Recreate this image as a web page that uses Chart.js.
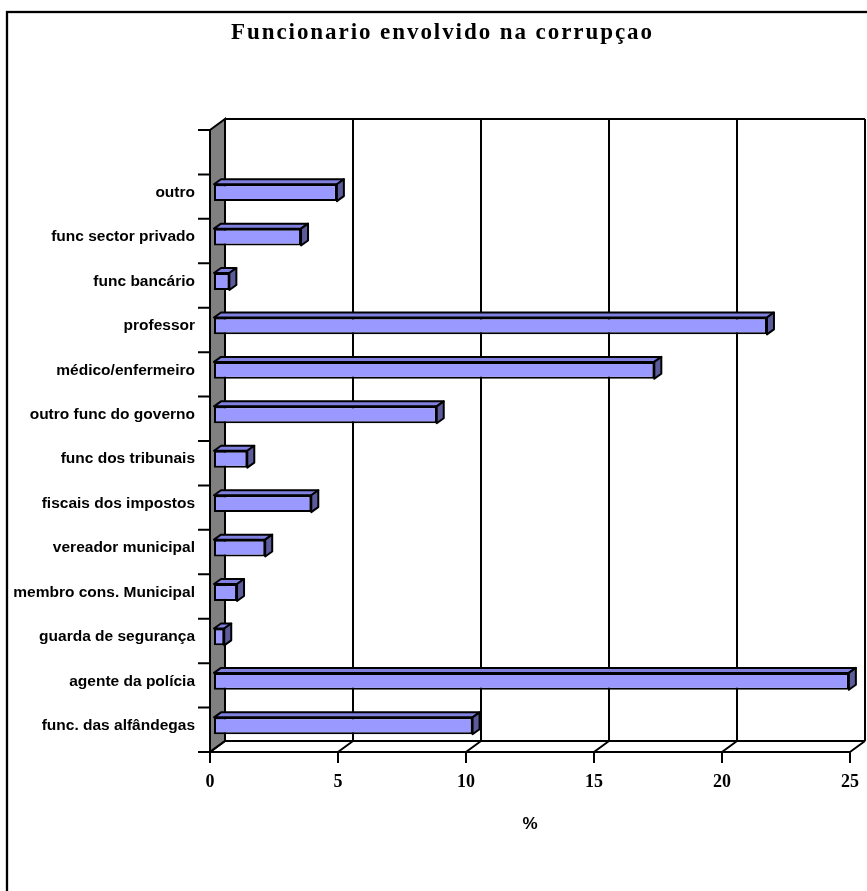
<!DOCTYPE html>
<html>
<head>
<meta charset="utf-8">
<script src="https://cdn.jsdelivr.net/npm/chart.js@4/dist/chart.umd.min.js"></script>
<style>
  body { margin: 0; background: #fff; }
  canvas { display: block; }
</style>
</head>
<body>
<canvas id="corrupcao_chart" width="867" height="891"></canvas>
<script>
// categories from top to bottom; the top slot of the chart is left empty
const categories = [
  "outro",
  "func sector privado",
  "func bancário",
  "professor",
  "médico/enfermeiro",
  "outro func do governo",
  "func dos tribunais",
  "fiscais dos impostos",
  "vereador municipal",
  "membro cons. Municipal",
  "guarda de segurança",
  "agente da polícia",
  "func. das alfândegas",
];
const percentages = [4.8, 3.4, 0.6, 21.6, 17.2, 8.7, 1.3, 3.8, 2.0, 0.9, 0.4, 24.8, 10.1];
const xTicks = [0, 5, 10, 15, 20, 25];

const chartTitle = "Funcionario envolvido na corrupçao";
const axisTitle = "%";

// depth of the 3d box and of each bar
const wall = { dx: 15, dy: -11 };
const bar = { dx: 4, dy: -4, depth: 7, rise: 5 };

let labels = [""].concat(categories);
let values = [null].concat(percentages);

const excel3d = {
  id: "excel3d",
  beforeDraw(chart) {
    const ctx = chart.ctx;
    ctx.save();
    ctx.fillStyle = "#fff";
    ctx.fillRect(0, 0, chart.width, chart.height);
    ctx.strokeStyle = "#000";
    ctx.lineWidth = 2.3;
    ctx.strokeRect(7, 12, chart.width + 20, chart.height + 20);
    ctx.restore();
  },
  beforeDatasetsDraw(chart) {
    const ctx = chart.ctx;
    const a = chart.chartArea;
    const xs = chart.scales.x;
    ctx.save();
    ctx.strokeStyle = "#000";
    ctx.lineWidth = 2;
    ctx.lineJoin = "miter";

    // left wall
    ctx.beginPath();
    ctx.moveTo(a.left, a.top);
    ctx.lineTo(a.left + wall.dx, a.top + wall.dy);
    ctx.lineTo(a.left + wall.dx, a.bottom + wall.dy);
    ctx.lineTo(a.left, a.bottom);
    ctx.closePath();
    ctx.fillStyle = "#808080";
    ctx.fill();
    ctx.stroke();

    // back wall gridlines and top edge
    ctx.beginPath();
    ctx.moveTo(a.left + wall.dx, a.top + wall.dy);
    ctx.lineTo(a.right + wall.dx, a.top + wall.dy);
    xTicks.forEach((v) => {
      const px = xs.getPixelForValue(v) + wall.dx;
      ctx.moveTo(px, a.top + wall.dy);
      ctx.lineTo(px, a.bottom + wall.dy);
    });
    ctx.stroke();

    // floor
    ctx.beginPath();
    ctx.moveTo(a.left, a.bottom);
    ctx.lineTo(a.right, a.bottom);
    ctx.moveTo(a.left + wall.dx, a.bottom + wall.dy);
    ctx.lineTo(a.right + wall.dx, a.bottom + wall.dy);
    xTicks.forEach((v) => {
      const px = xs.getPixelForValue(v);
      ctx.moveTo(px, a.bottom);
      ctx.lineTo(px + wall.dx, a.bottom + wall.dy);
      // tick mark under the axis
      ctx.moveTo(px, a.bottom);
      ctx.lineTo(px, a.bottom + 11);
    });
    ctx.stroke();

    // category tick marks on the left
    const step = (a.bottom - a.top) / labels.length;
    ctx.beginPath();
    for (let i = 0; i <= labels.length; i++) {
      const py = a.top + i * step;
      ctx.moveTo(a.left - 12, py);
      ctx.lineTo(a.left, py);
    }
    ctx.stroke();
    ctx.restore();

    // bars are drawn a little behind the front plane
    ctx.save();
    ctx.translate(bar.dx, bar.dy);
  },
  afterDatasetsDraw(chart) {
    const ctx = chart.ctx;
    ctx.restore();
    ctx.save();
    ctx.translate(bar.dx, bar.dy);
    ctx.strokeStyle = "#000";
    ctx.lineWidth = 2;
    ctx.lineJoin = "round";
    chart.getDatasetMeta(0).data.forEach((el, i) => {
      if (values[i] === null) return;
      const left = el.base;
      const right = el.x;
      const top = el.y - el.height / 2;
      const bottom = el.y + el.height / 2;

      ctx.beginPath();
      ctx.moveTo(left, top);
      ctx.lineTo(left + bar.depth, top - bar.rise);
      ctx.lineTo(right + bar.depth, top - bar.rise);
      ctx.lineTo(right, top);
      ctx.closePath();
      ctx.fillStyle = "#8080e0";
      ctx.fill();
      ctx.stroke();

      ctx.beginPath();
      ctx.moveTo(right, top);
      ctx.lineTo(right + bar.depth, top - bar.rise);
      ctx.lineTo(right + bar.depth, bottom - bar.rise);
      ctx.lineTo(right, bottom);
      ctx.closePath();
      ctx.fillStyle = "#5c5c9c";
      ctx.fill();
      ctx.stroke();
    });
    ctx.restore();
  },
  afterDraw(chart) {
    const ctx = chart.ctx;
    ctx.save();
    ctx.fillStyle = "#000";
    ctx.font = "bold 23px 'Liberation Serif'";
    ctx.textAlign = "left";
    ctx.textBaseline = "middle";
    // spread the title to its width in the original
    const natural = ctx.measureText(chartTitle).width;
    const spacing = (421 - natural) / (chartTitle.length - 1);
    let x = 441.5 - 421 / 2;
    for (const ch of chartTitle) {
      ctx.fillText(ch, x, 33);
      x += ctx.measureText(ch).width + spacing;
    }
    ctx.restore();
  },
};

new Chart(document.getElementById("corrupcao_chart"), {
  type: "bar",
  data: {
    labels: labels,
    datasets: [
      {
        label: "%",
        data: values,
        backgroundColor: "#9999ff",
        borderColor: "#000",
        borderWidth: 2,
        borderSkipped: false,
        categoryPercentage: 1,
        barPercentage: 0.38,
        clip: false,
      },
    ],
  },
  options: {
    indexAxis: "y",
    responsive: false,
    animation: false,
    events: [],
    layout: {
      padding: { top: 130, right: 17, bottom: 56, left: 0 },
    },
    scales: {
      x: {
        min: 0,
        max: 25,
        afterFit: (s) => {
          s.height = 83;
          s.paddingLeft = 0;
          s.paddingRight = 0;
        },
        grid: { display: false, drawTicks: false },
        border: { display: false },
        ticks: {
          stepSize: 5,
          padding: 20,
          color: "#000",
          font: { family: "'Liberation Serif'", size: 18, weight: "bold" },
        },
        title: {
          display: true,
          text: axisTitle,
          color: "#000",
          padding: 0,
          font: { family: "'Liberation Sans'", size: 17, weight: "bold" },
        },
      },
      y: {
        afterFit: (s) => { s.width = 210; },
        grid: { display: false, drawTicks: false },
        border: { display: false },
        ticks: {
          padding: 15,
          labelOffset: -4,
          autoSkip: false,
          color: "#000",
          font: { family: "'Liberation Sans'", size: 15.5, weight: "bold" },
        },
      },
    },
    plugins: {
      legend: { display: false },
      tooltip: { enabled: false },
    },
  },
  plugins: [excel3d],
});
</script>
</body>
</html>
